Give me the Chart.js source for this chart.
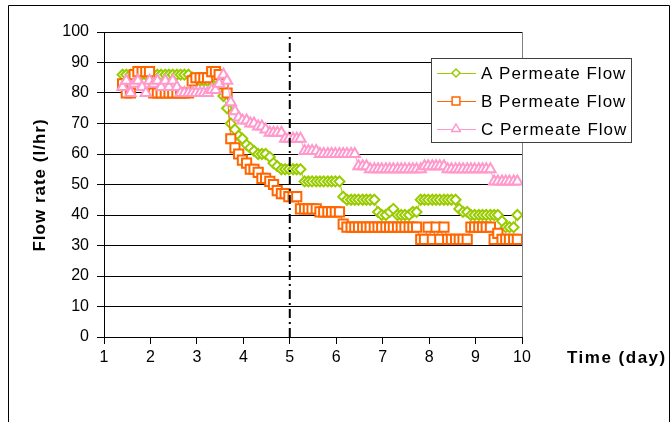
<!DOCTYPE html>
<html>
<head>
<meta charset="utf-8">
<script src="https://cdn.jsdelivr.net/npm/chart.js@4.4.1/dist/chart.umd.min.js"></script>
<style>
  html, body { margin: 0; padding: 0; background: #fff; }
  #wrap { width: 671px; height: 422px; }
</style>
</head>
<body>
<div id="wrap"><canvas id="flowChart" width="671" height="422"></canvas></div>
<script>
// time of each reading (day)
const days = [
  1.40,1.48,1.57,1.65,1.73,1.82,1.90,1.98,2.07,2.15,2.23,2.32,
  2.40,2.48,2.57,2.65,2.73,2.82,2.90,2.98,3.07,3.15,3.23,3.32,
  3.40,3.48,3.57,3.65,3.73,3.82,3.90,3.98,4.07,4.15,4.23,4.32,
  4.40,4.48,4.57,4.65,4.73,4.82,4.90,4.98,5.07,5.15,5.23,5.32,
  5.40,5.48,5.57,5.65,5.73,5.82,5.90,5.98,6.07,6.15,6.23,6.32,
  6.40,6.48,6.57,6.65,6.73,6.82,6.90,6.98,7.07,7.15,7.23,7.32,
  7.40,7.48,7.57,7.65,7.73,7.82,7.90,7.98,8.07,8.15,8.23,8.32,
  8.40,8.48,8.57,8.65,8.73,8.82,8.90,8.98,9.07,9.15,9.23,9.32,
  9.40,9.48,9.57,9.65,9.73,9.82,9.90
];

// flow rates (l/hr)
const flowA = [
  86,86,86,86,86,86,86,86,86,86,86,86,
  86,86,86,86,86,86,85,84,84,84,84,84,
  85,83,79,75,70,68,66,65,63,62,61,60,
  60,60,59,57,56,55,55,55,55,55,55,51,
  51,51,51,51,51,51,51,51,51,46,45,45,
  45,45,45,45,45,45,41,40,40,41,42,40,
  40,40,40,41,41,45,45,45,45,45,45,45,
  45,45,45,42,41,41,40,40,40,40,40,40,
  40,40,38,36,36,36,40
];
const flowB = [
  83,80,80,86,87,87,87,87,80,80,80,80,
  80,80,80,80,80,80,84,85,85,85,85,87,
  87,86,83,80,65,62,60,58,57,55,55,54,
  52,52,51,50,48,47,47,46,46,46,42,42,
  42,42,42,41,41,41,41,41,41,37,36,36,
  36,36,36,36,36,36,36,36,36,36,36,36,
  36,36,36,36,36,32,32,36,32,36,32,36,
  32,32,32,32,32,32,36,36,36,36,36,36,
  32,34,32,32,32,32,32
];
const flowC = [
  82,84,80,83,84,82,80,84,83,84,82,84,
  82,84,82,80,80,80,80,80,80,80,80,81,
  81,83,86,84,77,74,72,71,71,70,70,69,
  69,68,67,67,67,67,65,65,65,65,65,61,
  61,61,61,60,60,60,60,60,60,60,60,60,
  60,56,56,56,55,55,55,55,55,55,55,55,
  55,55,55,55,55,55,56,56,56,56,56,56,
  55,55,55,55,55,55,55,55,55,55,55,55,
  51,51,51,51,51,51,51
];

const seriesNames = ['A Permeate Flow', 'B Permeate Flow', 'C Permeate Flow'];
const seriesColors = ['#99CC00', '#FF6600', '#FF99CC'];
const seriesMarkers = ['rectRot', 'rect', 'triangle'];
const markerDay = 5;          // dash-dot reference line
const yRange = [0, 100, 10];
const xRange = [1, 10, 1];

const toPoints = (vals) => days.map((d, i) => ({ x: d, y: vals[i] }));
const flows = [flowA, flowB, flowC];
const markerRadius = [5, 6.5, 6];

const datasets = flows.map((vals, i) => ({
  label: seriesNames[i],
  data: toPoints(vals),
  borderColor: seriesColors[i],
  backgroundColor: '#ffffff',
  borderWidth: 1,
  pointStyle: seriesMarkers[i],
  pointRadius: markerRadius[i],
  pointBorderWidth: 2,
  pointBorderColor: seriesColors[i],
  pointBackgroundColor: '#ffffff',
  order: 3 - i
}));
datasets.push({
  label: 'marker',
  data: [{ x: markerDay, y: yRange[0] }, { x: markerDay, y: yRange[1] }],
  borderColor: '#000',
  borderWidth: 2,
  borderDash: [9, 4, 2, 4],
  pointRadius: 0,
  order: 0
});

function drawMarker(ctx, style, x, y, r, color) {
  ctx.beginPath();
  if (style === 'rect') {
    const s = r * Math.SQRT1_2;
    ctx.rect(x - s, y - s, 2 * s, 2 * s);
  } else if (style === 'rectRot') {
    ctx.moveTo(x, y - r); ctx.lineTo(x + r, y); ctx.lineTo(x, y + r); ctx.lineTo(x - r, y);
    ctx.closePath();
  } else {
    ctx.moveTo(x, y - r); ctx.lineTo(x + r * 0.866, y + r * 0.5); ctx.lineTo(x - r * 0.866, y + r * 0.5);
    ctx.closePath();
  }
  ctx.fillStyle = '#fff';
  ctx.fill();
  ctx.lineWidth = 1.5;
  ctx.strokeStyle = color;
  ctx.stroke();
}

const decorPlugin = {
  id: 'decor',
  afterDraw(chart) {
    const ctx = chart.ctx;
    const a = chart.chartArea;
    ctx.save();
    // right edge of plot area
    ctx.strokeStyle = '#808080';
    ctx.lineWidth = 1;
    ctx.beginPath();
    ctx.moveTo(Math.round(a.right) + 0.5, a.top);
    ctx.lineTo(Math.round(a.right) + 0.5, a.bottom);
    ctx.stroke();
    // outer frame
    ctx.strokeStyle = '#000';
    ctx.beginPath();
    ctx.moveTo(8.5, 422);
    ctx.lineTo(8.5, 5.5);
    ctx.lineTo(669.5, 5.5);
    ctx.lineTo(669.5, 422);
    ctx.stroke();

    // axis titles
    ctx.fillStyle = '#000';
    ctx.font = 'bold 17px "Liberation Sans", Arial, sans-serif';
    ctx.letterSpacing = '1.5px';
    ctx.textBaseline = 'middle';
    ctx.textAlign = 'left';
    ctx.fillText('Time (day)', 567, 358);
    ctx.save();
    ctx.translate(40, 185);
    ctx.rotate(-Math.PI / 2);
    ctx.textAlign = 'center';
    ctx.letterSpacing = '1px';
    ctx.fillText('Flow rate (l/hr)', 0, 0);
    ctx.restore();

    // legend
    const lx = 431, ly = 58, lw = 200, lh = 84;
    ctx.fillStyle = '#fff';
    ctx.fillRect(lx, ly, lw, lh);
    ctx.strokeStyle = '#404040';
    ctx.lineWidth = 1;
    ctx.strokeRect(lx + 0.5, ly + 0.5, lw, lh);
    ctx.font = '17px "Liberation Sans", Arial, sans-serif';
    ctx.letterSpacing = '1px';
    seriesNames.forEach((name, i) => {
      const y = ly + 15 + i * 28;
      ctx.strokeStyle = seriesColors[i];
      ctx.lineWidth = 1;
      ctx.beginPath();
      ctx.moveTo(lx + 6, y + 0.5);
      ctx.lineTo(lx + 45, y + 0.5);
      ctx.stroke();
      drawMarker(ctx, seriesMarkers[i], lx + 25, y, markerRadius[i] - 1, seriesColors[i]);
      ctx.fillStyle = '#000';
      ctx.textAlign = 'left';
      ctx.fillText(name, lx + 50, y + 1);
    });
    ctx.restore();
  }
};

const tickFont = { family: '"Liberation Sans", Arial, sans-serif', size: 16 };

new Chart(document.getElementById('flowChart'), {
  type: 'line',
  data: { datasets: datasets },
  options: {
    responsive: false,
    animation: false,
    layout: { padding: { left: 0, top: 32, right: 149, bottom: 0 } },
    plugins: {
      legend: { display: false },
      tooltip: { enabled: false }
    },
    scales: {
      x: {
        type: 'linear',
        min: xRange[0],
        max: xRange[1],
        ticks: { stepSize: xRange[2], color: '#000', font: tickFont, padding: 4, maxRotation: 0 },
        grid: { drawOnChartArea: false, drawTicks: true, tickLength: 7, color: '#000' },
        border: { color: '#000', width: 1 },
        afterFit: (s) => { s.height = 85; }
      },
      y: {
        min: yRange[0],
        max: yRange[1],
        ticks: { stepSize: yRange[2], color: '#000', font: tickFont, padding: 8 },
        grid: { color: '#000', lineWidth: 1, tickLength: 7 },
        border: { color: '#000', width: 1 },
        afterFit: (s) => { s.width = 104; }
      }
    }
  },
  plugins: [decorPlugin]
});
</script>
</body>
</html>
